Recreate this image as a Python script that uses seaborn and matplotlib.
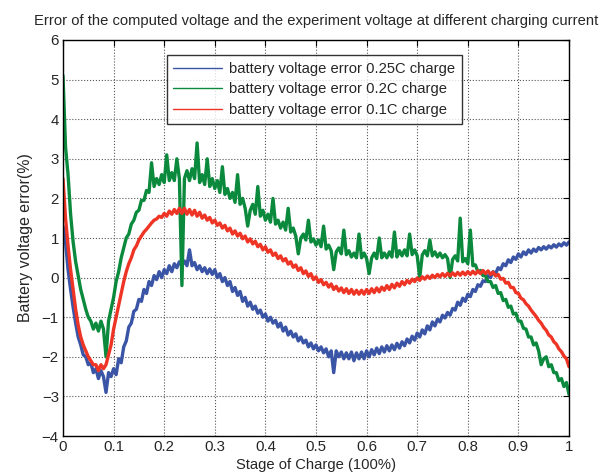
import numpy as np
import pandas as pd
import matplotlib
matplotlib.use("Agg")
import matplotlib.pyplot as plt
import seaborn as sns

blue_025c = [
    1.3, 0.9, 0.2, -0.3, -0.75, -1.15, -1.5, -1.7, -1.95, -2.0,
    -2.2, -2.15, -2.4, -2.3, -2.55, -2.35, -2.5, -2.9, -2.4, -2.5,
    -2.3, -2.45, -2.05, -2.15, -1.75, -1.6, -1.25, -1.15, -0.85, -0.8,
    -0.55, -0.6, -0.3, -0.4, -0.1, -0.2, 0.05, -0.05, 0.15, 0.0,
    0.2, 0.1, 0.3, 0.15, 0.35, 0.25, 0.4, 0.3, 0.42, 0.3,
    0.7, 0.3, 0.38, 0.2, 0.3, 0.15, 0.25, 0.1, 0.22, 0.08,
    0.2, 0.0, 0.1, -0.1, 0.0, -0.2, -0.1, -0.35, -0.25, -0.45,
    -0.35, -0.6, -0.5, -0.72, -0.62, -0.8, -0.72, -0.9, -0.82, -1.0,
    -0.92, -1.1, -1.0, -1.15, -1.08, -1.25, -1.15, -1.35, -1.25, -1.45,
    -1.35, -1.5, -1.42, -1.6, -1.5, -1.65, -1.58, -1.75, -1.65, -1.8,
    -1.7, -1.85, -1.75, -1.9, -1.8, -2.0, -1.85, -2.4, -1.85, -2.0,
    -1.88, -2.05, -1.9, -2.05, -1.88, -2.1, -1.9, -2.05, -1.88, -2.05,
    -1.85, -2.0, -1.82, -1.95, -1.78, -1.92, -1.75, -1.88, -1.72, -1.85,
    -1.7, -1.82, -1.66, -1.78, -1.62, -1.72, -1.55, -1.65, -1.48, -1.58,
    -1.4, -1.5, -1.32, -1.42, -1.22, -1.32, -1.12, -1.22, -1.05, -1.12,
    -0.95, -1.02, -0.88, -0.95, -0.78, -0.82, -0.62, -0.7, -0.52, -0.6,
    -0.42, -0.48, -0.3, -0.35, -0.18, -0.22, -0.08, -0.1, 0.05, 0.0,
    0.15, 0.1, 0.25, 0.2, 0.35, 0.3, 0.45, 0.38, 0.52, 0.46,
    0.6, 0.52, 0.65, 0.58, 0.7, 0.62, 0.72, 0.66, 0.76, 0.7,
    0.78, 0.72, 0.8, 0.75, 0.83, 0.77, 0.85, 0.8, 0.88, 0.82,
    0.9,
]
green_02c = [
    5.1, 3.3, 2.6, 1.6, 0.9, 0.4, 0.05, -0.3, -0.55, -0.8,
    -1.0, -1.1, -1.3, -1.15, -1.35, -1.1, -1.3, -2.0, -1.1, -0.8,
    -0.5, -0.1, 0.15, 0.5, 0.75, 1.0, 1.1, 1.35, 1.45, 1.65,
    1.7, 1.95, 1.95, 2.2, 2.15, 2.9, 2.3, 2.5, 2.35, 2.6,
    2.4, 3.1, 2.45, 2.65, 2.45, 3.0, 2.5, -0.2, 2.5, 2.7,
    2.45, 2.75, 2.5, 3.4, 2.4, 2.6, 2.35, 3.0, 2.3, 2.5,
    2.25, 2.45, 2.15, 2.8, 2.1, 2.25, 2.0, 2.15, 1.9, 2.6,
    1.85, 2.0, 1.75, 1.3, 1.7, 1.85, 1.6, 2.3, 1.55, 1.7,
    1.45, 1.6, 1.4, 2.0, 1.35, 1.45, 1.25, 1.4, 1.2, 1.75,
    1.15, 1.25, 1.05, 0.6, 1.0, 1.1, 0.95, 1.45, 0.9, 0.98,
    0.82, 0.95, 0.78, 1.3, 0.72, 0.82, 0.68, 0.2, 0.65, 0.75,
    0.6, 1.2, 0.58, 0.68, 0.52, 0.62, 0.5, 1.1, 0.5, 0.62,
    0.48, 0.1, 0.5, 0.62, 0.48, 1.0, 0.5, 0.62, 0.5, 0.65,
    0.52, 1.15, 0.52, 0.68, 0.55, 0.7, 0.55, 1.1, 0.58, 0.7,
    0.55, 0.0, 0.57, 0.68, 0.55, 0.95, 0.55, 0.65, 0.52, 0.62,
    0.5, 0.58, 0.48, 0.0, 0.46, 0.55, 0.42, 1.5, 0.4, 0.48,
    0.35, 1.2, 0.3, 0.32, 0.15, 0.18, 0.05, 0.05, -0.1, -0.1,
    -0.25, -0.2, -0.4, -0.38, -0.58, -0.55, -0.75, -0.72, -0.92, -0.9,
    -1.1, -1.1, -1.28, -1.3, -1.5, -1.5, -1.7, -1.65, -1.85, -2.2,
    -2.05, -2.0, -2.25, -2.2, -2.4, -2.4, -2.6, -2.55, -2.75, -2.65,
    -2.95,
]
red_01c = [
    2.5, 1.5, 0.8, 0.2, -0.3, -0.8, -1.2, -1.5, -1.7, -1.85,
    -2.0, -2.1, -2.2, -2.2, -2.35, -2.2, -2.3, -2.2, -1.95, -1.7,
    -1.3, -1.0, -0.7, -0.4, -0.1, 0.15, 0.35, 0.5, 0.7, 0.8,
    0.95, 1.05, 1.15, 1.22, 1.3, 1.38, 1.45, 1.48, 1.55, 1.52,
    1.62, 1.55, 1.68, 1.6, 1.72, 1.62, 1.75, 1.62, 1.75, 1.6,
    1.72, 1.58, 1.7, 1.55, 1.65, 1.5, 1.58, 1.45, 1.52, 1.38,
    1.45, 1.32, 1.38, 1.25, 1.32, 1.18, 1.25, 1.1, 1.18, 1.05,
    1.12, 0.98, 1.05, 0.9, 0.98, 0.85, 0.92, 0.78, 0.84, 0.7,
    0.78, 0.64, 0.7, 0.56, 0.62, 0.48, 0.55, 0.42, 0.48, 0.34,
    0.4, 0.26, 0.32, 0.18, 0.25, 0.1, 0.17, 0.03, 0.1, -0.05,
    0.02, -0.12, -0.05, -0.18, -0.12, -0.24, -0.16, -0.3, -0.22, -0.34,
    -0.26, -0.38, -0.28, -0.4, -0.3, -0.42, -0.32, -0.42, -0.32, -0.42,
    -0.3, -0.4, -0.28, -0.38, -0.26, -0.36, -0.24, -0.32, -0.2, -0.3,
    -0.17, -0.26, -0.14, -0.22, -0.1, -0.18, -0.07, -0.14, -0.04, -0.1,
    -0.01, -0.07, 0.02, -0.04, 0.04, -0.02, 0.06, 0.0, 0.08, 0.02,
    0.1, 0.03, 0.11, 0.04, 0.12, 0.05, 0.13, 0.06, 0.14, 0.07,
    0.15, 0.08, 0.16, 0.09, 0.17, 0.1, 0.18, 0.1, 0.17, 0.08,
    0.14, 0.04, 0.08, -0.04, -0.02, -0.14, -0.12, -0.25, -0.25, -0.38,
    -0.4, -0.52, -0.56, -0.66, -0.72, -0.82, -0.9, -0.98, -1.08, -1.15,
    -1.26, -1.33, -1.45, -1.5, -1.62, -1.68, -1.8, -1.87, -1.98, -2.05,
    -2.25,
]
series_labels = [
    "battery voltage error 0.25C charge",
    "battery voltage error 0.2C charge",
    "battery voltage error 0.1C charge",
]
x_ticks = [0, 0.1, 0.2, 0.3, 0.4, 0.5, 0.6, 0.7, 0.8, 0.9, 1]
x_ticklabels = ["0", "0.1", "0.2", "0.3", "0.4", "0.5", "0.6", "0.7", "0.8", "0.9", "1"]
y_ticks = [-4, -3, -2, -1, 0, 1, 2, 3, 4, 5, 6]

frames = []
for lab, vals in zip(series_labels, [blue_025c, green_02c, red_01c]):
    soc = np.linspace(0, 1, len(vals))
    frames.append(pd.DataFrame({"soc": soc, "err": vals, "series": lab}))
df = pd.concat(frames, ignore_index=True)

sns.set_style("white")
plt.rcParams["font.family"] = ["Liberation Sans", "DejaVu Sans"]

fig = plt.figure(figsize=(6.01, 4.73), dpi=100)
ax = fig.add_axes([63 / 601, 1 - 436 / 473, 506 / 601, 396 / 473])

palette = {series_labels[0]: "#3b55a6",
           series_labels[1]: "#0b8a3e",
           series_labels[2]: "#ee3424"}
sns.lineplot(data=df, x="soc", y="err", hue="series", hue_order=series_labels,
             palette=palette, estimator=None, sort=False, linewidth=2.4, ax=ax)

ax.set_xlim(0, 1)
ax.set_ylim(-4, 6)
ax.set_xticks(x_ticks)
ax.set_xticklabels(x_ticklabels)
ax.set_yticks(y_ticks)
ax.grid(True, linestyle=":", color="#555555", linewidth=0.8)
ax.tick_params(direction="in", top=True, right=True, length=4, width=0.8,
               labelsize=10.8, color="black", pad=3)
for s in ax.spines.values():
    s.set_color("black")
    s.set_linewidth(1.0)

ax.set_title("Error of the computed voltage and the experiment voltage at different charging current",
             fontsize=10.6, pad=11)
ax.set_xlabel("Stage of Charge (100%)", fontsize=10.6, labelpad=3)
ax.set_ylabel("Battery voltage error(%)", fontsize=11.4, labelpad=6)

leg = ax.legend(loc="upper left", bbox_to_anchor=(0.205, 0.962), fontsize=10.6,
                frameon=True, fancybox=False, shadow=False, handlelength=3.3,
                borderpad=0.45, labelspacing=0.45, handletextpad=0.5,
                borderaxespad=0)
leg.get_frame().set_edgecolor("black")
leg.get_frame().set_linewidth(1.0)
for line in leg.get_lines():
    line.set_linewidth(1.0)

fig.savefig("out.png", dpi=100)
